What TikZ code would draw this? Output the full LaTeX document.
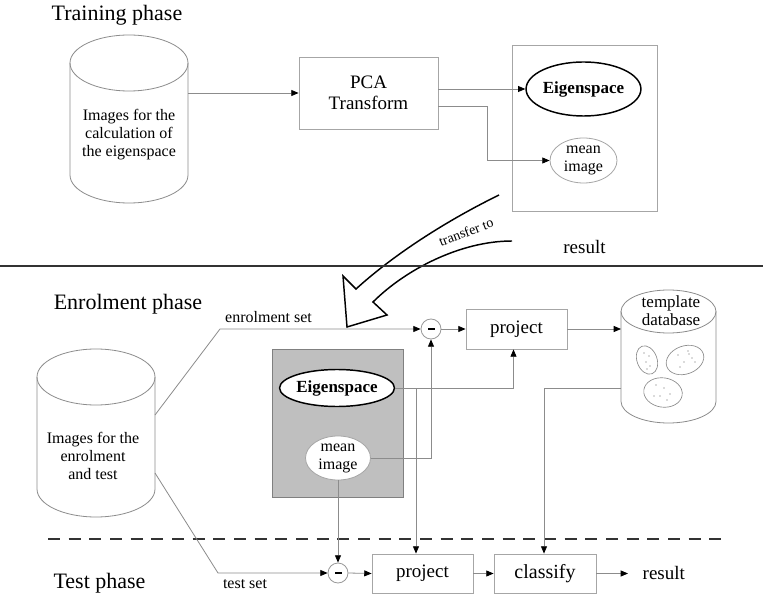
\documentclass[tikz,border=0pt]{standalone}
\usepackage{fontspec}
\setmainfont{Liberation Serif}
\usetikzlibrary{arrows.meta,shapes.geometric,calc}
\begin{document}
\begin{tikzpicture}[x=0.75pt,y=-0.75pt,
  conn/.style={draw=black!45,line width=0.6pt,-{Triangle[length=5.5pt,width=4.5pt,color=black]}},
  plain/.style={draw=black!45,line width=0.6pt},
  boxnode/.style={draw=black!35,line width=0.6pt,inner sep=0pt,align=center},
  cylline/.style={draw=black!45,line width=0.6pt},
  eignode/.style={ellipse,draw=black,line width=1.1pt,inner sep=0pt,font=\bfseries\fontsize{12.75}{14}\selectfont},
  meannode/.style={ellipse,draw=black!35,line width=0.6pt,inner sep=0pt,align=center,font=\fontsize{12}{13.5}\selectfont},
  minusnode/.style={circle,draw=black!40,line width=0.6pt,minimum size=15pt,inner sep=0pt},
  phase/.style={font=\fontsize{16.5}{20}\selectfont},
  small/.style={font=\fontsize{12}{13.5}\selectfont,align=center},
  mid/.style={font=\fontsize{14.25}{15.75}\selectfont,align=center},
  hidden/.style={inner sep=0pt,outer sep=0pt},
  dbdot/.style={fill=black!60}]
\fill[white] (0,0) rectangle (763,598);
\useasboundingbox (0,0) rectangle (763,598);

% ---------------- Training phase ----------------
\node[phase] (ttrain) at (117,15.5) {Training phase};

% cylinder 1
\draw[cylline] (70,63) -- (70,175) arc[start angle=180,end angle=360,x radius=44.25pt,y radius=21pt] -- (188,63);
\draw[cylline] (129,63) ellipse [x radius=44.25pt,y radius=21pt];
\node[hidden,minimum width=88.5pt,minimum height=84pt] (cyl1) at (129,119) {};
\node[small] (cyl1t) at (129,135) {Images for the\\calculation of\\the eigenspace};

\node[boxnode,mid,minimum width=104.25pt,minimum height=54pt] (pca) at (368.5,93) {PCA\\Transform};
\node[boxnode,minimum width=108.75pt,minimum height=124.5pt] (res) at (584.5,128) {};
\node[eignode,minimum width=80.25pt,minimum height=40.5pt] (eig1) at (583.5,89) {Eigenspace};
\node[meannode,minimum width=50.25pt,minimum height=33.75pt] (mean1) at (583.5,160.5) {mean\\image};

\draw[conn] (cyl1.east |- pca.west) -- (pca.west);
\draw[conn] (pca.east |- eig1.west) -- (eig1.west);
\draw[conn] ($(pca.east)+(0,13)$) -- ++(49,0) |- (mean1.west);

\node[font=\fontsize{14.25}{16}\selectfont] (restop) at (584.5,247.5) {result};

% big transfer arrow
\draw[line width=1.1pt,line join=miter]
  (499,195) .. controls (440,224) and (390,258) .. (356,289)
  -- (343,276) -- (347,327) -- (387,315) -- (373,302)
  .. controls (405,270) and (460,241) .. (512,241);
\node[font=\fontsize{10.5}{12}\selectfont,rotate=21] (transfer) at (466,232) {transfer to};

% separator
\draw[line width=1.5pt,black!80] (0,266) -- (763,266);

% ---------------- Enrolment phase ----------------
\node[phase] (tenrol) at (128,304.5) {Enrolment phase};
\node[small] (enrolset) at (268.5,317.5) {enrolment set};

% cylinder 2
\draw[cylline] (37,377) -- (37,489) arc[start angle=180,end angle=360,x radius=44.25pt,y radius=21pt] -- (155,377);
\draw[cylline] (96,377) ellipse [x radius=44.25pt,y radius=21pt];
\node[hidden,minimum width=88.5pt,minimum height=84pt] (cyl2) at (96,433) {};
\node[small] (cyl2t) at (93,456) {Images for the\\enrolment\\and test};

% gray box
\node[draw=black!50,fill=black!25,line width=0.6pt,minimum width=98.25pt,minimum height=111pt,inner sep=0pt] (gbox) at (337.5,423) {};
\node[eignode,fill=white,minimum width=79.5pt,minimum height=27.75pt] (eig2) at (337,388) {Eigenspace};
\node[meannode,fill=white,minimum width=48.75pt,minimum height=33pt] (mean2) at (338,458) {mean\\image};

% minus circles
\node[minusnode] (m1) at (431,329) {};
\node[minusnode] (m2) at (338,573) {};
\fill (m1.center) ++(-3.5,-1.2) rectangle ++(7,2.4);
\fill (m2.center) ++(-3.5,-1.2) rectangle ++(7,2.4);

\node[boxnode,mid,minimum width=75.75pt,minimum height=30pt] (proj1) at (516.5,329) {project};

% template database
\draw[cylline] (621,311.5) -- (621,401.5) arc[start angle=180,end angle=360,x radius=35.625pt,y radius=16.125pt] -- (716,311.5);
\draw[cylline] (668.5,311.5) ellipse [x radius=35.625pt,y radius=16.125pt];
\node[hidden,minimum width=71.25pt,minimum height=67.5pt] (db) at (668.5,356.5) {};
\node[font=\fontsize{12.75}{13.5}\selectfont,align=center] (dbt) at (671,311) {template\\database};
\node[ellipse,draw=black!45,line width=0.5pt,minimum width=15pt,minimum height=22pt,inner sep=0pt,rotate=20] (cl1) at (647,360) {};
\node[ellipse,draw=black!45,line width=0.5pt,minimum width=29pt,minimum height=21pt,inner sep=0pt,rotate=20] (cl2) at (685,360) {};
\node[ellipse,draw=black!45,line width=0.5pt,minimum width=29pt,minimum height=22pt,inner sep=0pt,rotate=-8] (cl3) at (663,392.5) {};
\foreach \p in {(644,353),(649,356),(646,362),(650,366),(647,369)} \fill[dbdot] \p circle (0.45pt);
\foreach \p in {(678,355),(688,351),(692,358),(684,362),(680,367),(695,362),(689,354)} \fill[dbdot] \p circle (0.45pt);
\foreach \p in {(656,385),(664,388),(660,396),(670,394),(667,400),(654,396)} \fill[dbdot] \p circle (0.45pt);

% connectors (enrolment)
\coordinate (ea) at (155,415);
\coordinate (eb) at (220,329);
\draw[conn] (ea) -- (eb) -- (m1.west);
\draw[conn] (m1.east) -- (proj1.west);
\draw[conn] (proj1.east) -- (proj1.east -| db.west);
\draw[conn] (eig2.east) -| ($(proj1.south)+(-3,0)$);
\draw[conn] (mean2.east) -| (m1.south);

% dashed separator
\draw[line width=1.5pt,black!80,dash pattern=on 9pt off 6.5pt] (48,539) -- (722,539);

% ---------------- Test phase ----------------
\node[phase] (ttest) at (99.5,583.5) {Test phase};
\node[small] (testset) at (245,584) {test set};

\node[boxnode,mid,minimum width=75.75pt,minimum height=29.25pt] (proj2) at (422.5,573.5) {project};
\node[boxnode,font=\fontsize{15}{16}\selectfont,minimum width=76.5pt,minimum height=29.25pt] (cls) at (545,573.5) {classify};
\node[font=\fontsize{14.25}{16}\selectfont,anchor=west] (resbot) at (638,573) {result};
\coordinate (resend) at (628,573.5);

\coordinate (ta) at (155,473);
\coordinate (tb) at (218,573);
\draw[conn] (ta) -- (tb) -- (m2.west);
\draw[conn] (mean2.south) -- (m2.north);
\draw[conn] (m2.east) -- (proj2.west);
\draw[conn] (proj2.east) -- (cls.west);
\draw[conn] (cls.east) -- (resend);
\coordinate (br) at (416,388);
\draw[conn] (br) -- (br |- proj2.north);
\coordinate (dbl) at (621,388);
\draw[conn] (dbl) -| ($(cls.north)+(-1,0)$);
\end{tikzpicture}
\end{document}
